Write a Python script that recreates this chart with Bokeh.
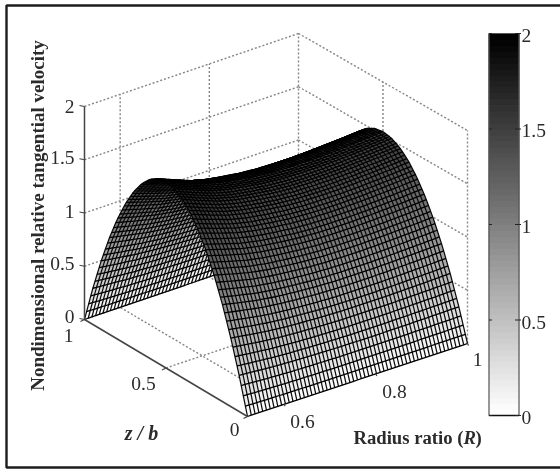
import numpy as np
from bokeh.plotting import figure
from bokeh.core.properties import value
from bokeh.embed import file_html
from bokeh.resources import INLINE

# ---- data ----
r_samples = [0.52, 0.56, 0.60, 0.64, 0.68, 0.72, 0.76, 0.80, 0.84, 0.88, 0.92, 0.96, 1.00]
ridge_values = [1.75, 1.68, 1.615, 1.57, 1.54, 1.515, 1.50, 1.495, 1.495, 1.50, 1.51, 1.52, 1.534]
zb_samples = [0, .05, .1, .15, .2, .25, .3, .35, .4, .45, .5, .55, .6, .65, .7, .75, .8, .85, .9, .95, 1]
profile = [0, .19, .36, .51, .64, .75, .84, .91, .96, .99, 1, .99, .96, .91, .84, .75, .64, .51, .36, .19, 0]
r_ticks = [0.6, 0.8, 1.0]
r_tick_labels = ["0.6", "0.8", "1"]
zb_ticks = [0, 0.5, 1]
zb_tick_labels = ["0", "0.5", "1"]
v_ticks = [0, 0.5, 1, 1.5, 2]
v_tick_labels = ["0", "0.5", "1", "1.5", "2"]
bar_levels = list(range(64))

R_MIN, R_MAX = 0.52, 1.0
N_R, N_Z = 58, 78
SERIF = value("Liberation Serif")
INK = "#2b2b2b"

# ---- oblique 3D box projection ----
C_FRONT = (247, 416)   # R min, z/b 0
C_RIGHT = (467, 343)   # R max, z/b 0
C_LEFT = (84, 319)     # R min, z/b 1
C_BACK = (298, 246)    # R max, z/b 1
V_SCALE = 106.5

def proj(r, zb, v=0.0):
    r, zb, v = np.asarray(r, float), np.asarray(zb, float), np.asarray(v, float)
    t = (r - R_MIN) / (R_MAX - R_MIN)
    x = (1-t)*(1-zb)*C_FRONT[0] + t*(1-zb)*C_RIGHT[0] + (1-t)*zb*C_LEFT[0] + t*zb*C_BACK[0]
    y = (1-t)*(1-zb)*C_FRONT[1] + t*(1-zb)*C_RIGHT[1] + (1-t)*zb*C_LEFT[1] + t*zb*C_BACK[1]
    return x, y - V_SCALE * v

def gray(v):
    level = int(round(np.clip(v / 2.0, 0, 1) * 63))
    g = int(round(255 * (1 - level / 63)))
    return "#%02x%02x%02x" % (g, g, g)

p = figure(width=560, height=469, x_range=(0, 560), y_range=(469, 0),
           x_axis_type=None, y_axis_type=None, toolbar_location=None,
           output_backend="svg", min_border=0, outline_line_color=None,
           background_fill_color="white", border_fill_color="white")
p.grid.visible = False
p.styles = {"position": "fixed", "left": "0px", "top": "0px", "filter": "blur(0.5px)"}

# ---- outer frame ----
p.line([560, 6, 6, 560], [5, 5, 467, 467], line_color="#1c1c1c", line_width=2.4)

# ---- dotted box grid ----
gx, gy = [], []
def seg(a, b):
    gx.append([float(a[0]), float(b[0])])
    gy.append([float(a[1]), float(b[1])])

for v in v_ticks[1:]:
    seg(proj(R_MIN, 1, v), proj(R_MAX, 1, v))   # back-left wall, horizontal
    seg(proj(R_MAX, 1, v), proj(R_MAX, 0, v))   # back-right wall, horizontal
for r in r_ticks:
    seg(proj(r, 1, 0), proj(r, 1, 2))           # left wall vertical
    seg(proj(r, 0, 0), proj(r, 1, 0))           # floor
for zb in zb_ticks[:-1]:
    seg(proj(R_MAX, zb, 0), proj(R_MAX, zb, 2)) # right wall vertical
seg(proj(R_MIN, 0.5, 0), proj(R_MAX, 0.5, 0))   # floor
seg(proj(R_MIN, 1, 0), proj(R_MAX, 1, 0))
seg(proj(R_MAX, 1, 0), proj(R_MAX, 0, 0))
p.multi_line(gx, gy, line_color="#858585", line_width=1.4, line_dash="2 2")

# ---- surface ----
r_mesh = np.linspace(R_MIN, R_MAX, N_R + 1)
z_mesh = np.linspace(0, 1, N_Z + 1)
ridge = np.interp(r_mesh, r_samples, ridge_values)
prof = np.interp(z_mesh, zb_samples, profile)
V = np.outer(prof, ridge)
RR, ZZ = np.meshgrid(r_mesh, z_mesh)
X, Y = proj(RR, ZZ, V)
split = int(round(0.567 * N_Z))

def draw_part(i0, i1):
    xs, ys, cols = [], [], []
    for i in range(i0, i1):
        for j in range(N_R):
            xs.append([X[i, j], X[i, j+1], X[i+1, j+1], X[i+1, j]])
            ys.append([Y[i, j], Y[i, j+1], Y[i+1, j+1], Y[i+1, j]])
            cols.append(gray((V[i, j] + V[i, j+1] + V[i+1, j+1] + V[i+1, j]) / 4))
    p.patches(xs, ys, fill_color=cols, line_color=None)
    p.multi_line([list(X[i0:i1+1, j]) for j in range(N_R + 1)],
                 [list(Y[i0:i1+1, j]) for j in range(N_R + 1)],
                 line_color="black", line_width=1.25, line_alpha=0.95)
    p.multi_line([list(X[i, :]) for i in range(i0, i1 + 1)],
                 [list(Y[i, :]) for i in range(i0, i1 + 1)],
                 line_color="black", line_width=1.3, line_alpha=1.0)

draw_part(split, N_Z)
draw_part(0, split)

# ---- solid axes and ticks ----
ax_col = "#444444"
a0, a1 = proj(R_MIN, 1, 0), proj(R_MIN, 1, 2)
p.line([float(a0[0]), float(a1[0])], [float(a0[1]), float(a1[1])], line_color=ax_col, line_width=1.5)
b0, b1 = proj(R_MIN, 1, 0), proj(R_MIN, 0, 0)
p.line([float(b0[0]), float(b1[0])], [float(b0[1]), float(b1[1])], line_color=ax_col, line_width=1.5)
tx, ty = [], []
for v in v_ticks:
    c = proj(R_MIN, 1, v)
    tx.append([float(c[0]), float(c[0]) - 5]); ty.append([float(c[1]), float(c[1]) - 1])
for zb in zb_ticks:
    c = proj(R_MIN, zb, 0)
    tx.append([float(c[0]), float(c[0]) - 4]); ty.append([float(c[1]), float(c[1]) + 2])
for r in r_ticks:
    c = proj(r, 0, 0)
    tx.append([float(c[0]), float(c[0]) + 1]); ty.append([float(c[1]), float(c[1]) + 2])
p.multi_line(tx, ty, line_color=ax_col, line_width=1.2)

# ---- tick labels ----
p.text(x=[74] * 5, y=[316, 263, 211, 157, 106], text=v_tick_labels,
       text_font=SERIF, text_font_size="19.5px", text_color=INK, text_align="right", text_baseline="middle")
p.text(x=[234, 143, 68], y=[429, 383, 335], text=zb_tick_labels,
       text_font=SERIF, text_font_size="19.5px", text_color=INK, text_align="center", text_baseline="middle")
p.text(x=[302, 394, 477], y=[421, 391, 359], text=r_tick_labels,
       text_font=SERIF, text_font_size="19.5px", text_color=INK, text_align="center", text_baseline="middle")

# ---- axis titles ----
p.text(x=[37], y=[215], text=["Nondimensional relative tangential velocity"], angle=np.pi / 2,
       text_font=SERIF, text_font_size="19px", text_font_style="bold", text_color=INK,
       text_align="center", text_baseline="middle")
p.text(x=[141], y=[432], text=["z / b"], text_font=SERIF, text_font_size="20px",
       text_font_style="bold italic", text_color=INK, text_align="center", text_baseline="middle")
p.text(x=[463], y=[437], text=["Radius ratio ("], text_font=SERIF, text_font_size="18.7px",
       text_font_style="bold", text_color=INK, text_align="right", text_baseline="middle")
p.text(x=[463], y=[437], text=["R"], text_font=SERIF, text_font_size="18.7px",
       text_font_style="bold italic", text_color=INK, text_align="left", text_baseline="middle")
p.text(x=[475], y=[437], text=[")"], text_font=SERIF, text_font_size="18.7px",
       text_font_style="bold", text_color=INK, text_align="left", text_baseline="middle")

# ---- colour bar ----
BAR_L, BAR_R, BAR_T, BAR_B = 488.5, 518.5, 33.0, 415.0
def bar_y(v):
    return BAR_B - (BAR_B - BAR_T) * np.asarray(v, float) / 2.0
lv = np.asarray(bar_levels, float)
bar_cols = [gray(float(i) * 2 / 63) for i in bar_levels]
p.quad(left=BAR_L, right=BAR_R, bottom=bar_y(lv * 2 / 64), top=bar_y((lv + 1) * 2 / 64),
       fill_color=bar_cols, line_color=bar_cols, line_width=1)
p.line([BAR_L, BAR_R, BAR_R, BAR_L, BAR_L], [BAR_T, BAR_T, BAR_B, BAR_B, BAR_T],
       line_color="#555555", line_width=1.2)
p.line([BAR_L, BAR_R], [BAR_B, BAR_B], line_color="#111111", line_width=1.5)
cbx, cby = [], []
for v in v_ticks:
    y = float(bar_y(v))
    cbx += [[BAR_L, BAR_L + 3], [BAR_R - 4, BAR_R + 2]]
    cby += [[y, y], [y, y]]
p.multi_line(cbx, cby, line_color="#222222", line_width=1.1)
p.text(x=[521] * 5, y=[417, 322, 226, 130, 35], text=v_tick_labels,
       text_font=SERIF, text_font_size="19.5px", text_color=INK, text_align="left", text_baseline="middle")

open("out.html", "w").write(file_html(p, INLINE))
